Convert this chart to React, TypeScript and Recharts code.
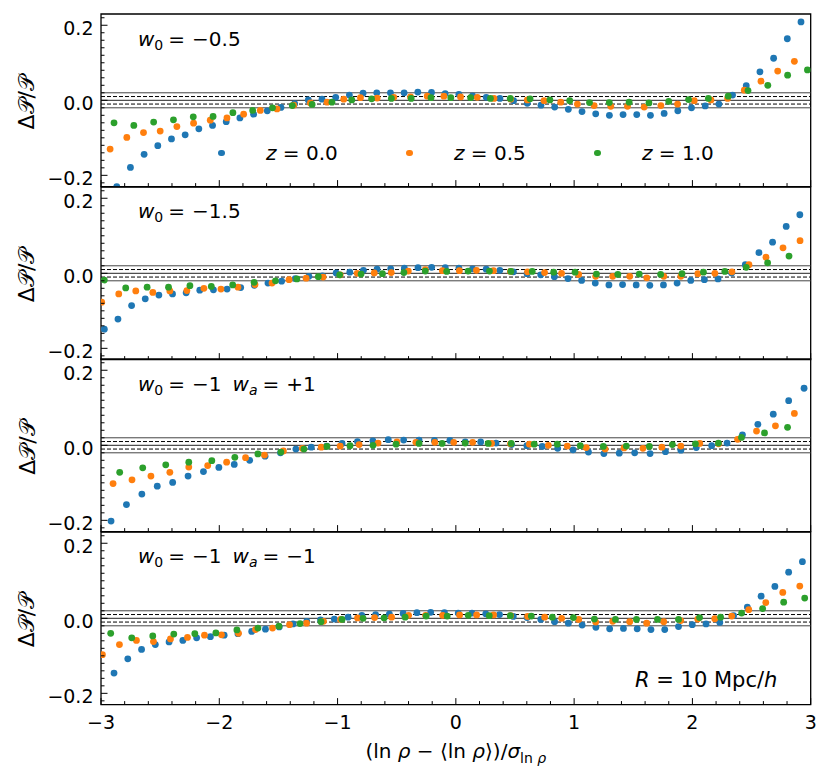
import { ScatterChart, Scatter, XAxis, YAxis, ReferenceLine, ReferenceArea, Legend } from "recharts";

const FONT = "'DejaVu Sans', sans-serif";
const REDSHIFTS = ["0.0", "0.5", "1.0"];
const COLORS = ["#1f77b4", "#ff7f0e", "#2ca02c"];
const W0 = ["−0.5", "−1.5", "−1", "−1"];
const WA = ["", "", "+1", "−1"];

const X_TICKS = [-3, -2.8, -2.6, -2.4, -2.2, -2, -1.8, -1.6, -1.4, -1.2, -1, -0.8, -0.6, -0.4, -0.2, 0, 0.2, 0.4, 0.6, 0.8, 1, 1.2, 1.4, 1.6, 1.8, 2, 2.2, 2.4, 2.6, 2.8, 3];
const Y_TICKS = [-0.22, -0.2, -0.18, -0.16, -0.14, -0.12, -0.1, -0.08, -0.06, -0.04, -0.02, 0, 0.02, 0.04, 0.06, 0.08, 0.1, 0.12, 0.14, 0.16, 0.18, 0.2, 0.22];

// first bin centre and bin width in units of sigma, per panel and redshift
const BIN_START = [
  [-2.867, -2.923, -2.89],
  [-2.972, -2.994, -2.972],
  [-2.915, -2.898, -2.842],
  [-2.89, -2.988, -2.918],
];
const BIN_WIDTH = [
  [0.1157, 0.1411, 0.1675],
  [0.1153, 0.144, 0.1809],
  [0.1302, 0.16, 0.1947],
  [0.1164, 0.1438, 0.1778],
];

// w0 = -0.5
const A_Z00 = [-0.23, -0.179, -0.144, -0.121, -0.103, -0.092, -0.076, -0.067, -0.057, -0.047, -0.037, -0.028, -0.019, -0.009, 0.001, 0.003, 0.008, 0.014, 0.019, 0.02, 0.02, 0.02, 0.022, 0.021, 0.018, 0.016, 0.012, 0.008, 0.005, -0.001, -0.008, -0.013, -0.018, -0.024, -0.03, -0.036, -0.04, -0.038, -0.038, -0.04, -0.035, -0.028, -0.02, -0.015, -0.01, 0.014, 0.039, 0.076, 0.112, 0.164, 0.209];
const A_Z05 = [-0.13, -0.099, -0.086, -0.082, -0.07, -0.061, -0.053, -0.047, -0.037, -0.027, -0.023, -0.013, -0.007, -0.005, 0.003, 0.007, 0.006, 0.008, 0.009, 0.011, 0.011, 0.009, 0.008, 0.005, 0.003, 0.001, -0.001, -0.005, -0.01, -0.014, -0.016, -0.016, -0.018, -0.014, -0.01, -0.001, 0.001, 0.005, 0.027, 0.051, 0.078, 0.104];
const A_Z10 = [-0.06, -0.067, -0.058, -0.052, -0.044, -0.043, -0.033, -0.027, -0.02, -0.014, -0.011, -0.005, 0.001, 0.004, 0.005, 0.005, 0.007, 0.007, 0.007, 0.005, 0.005, 0.004, 0.001, -0.001, -0.006, -0.006, -0.005, -0.007, -0.003, 0.002, 0.005, 0.011, 0.026, 0.04, 0.067, 0.081];

// w0 = -1.5
const B_Z00 = [-0.149, -0.122, -0.086, -0.068, -0.058, -0.055, -0.052, -0.045, -0.044, -0.042, -0.038, -0.032, -0.026, -0.021, -0.014, -0.008, -0.007, 0.001, 0.003, 0.008, 0.011, 0.012, 0.014, 0.015, 0.016, 0.015, 0.014, 0.012, 0.011, 0.008, 0.004, -0.001, -0.004, -0.009, -0.014, -0.019, -0.026, -0.031, -0.03, -0.031, -0.032, -0.031, -0.026, -0.019, -0.017, -0.015, 0.001, 0.023, 0.055, 0.083, 0.125, 0.156];
const B_Z05 = [-0.077, -0.055, -0.047, -0.051, -0.047, -0.046, -0.04, -0.042, -0.037, -0.03, -0.026, -0.017, -0.013, -0.01, -0.004, 0.0, 0.001, 0.002, 0.006, 0.01, 0.007, 0.007, 0.008, 0.007, 0.005, 0.004, 0.002, 0.0, -0.003, -0.008, -0.008, -0.008, -0.012, -0.008, -0.008, -0.001, 0.0, 0.004, 0.023, 0.043, 0.068, 0.087];
const B_Z10 = [-0.018, -0.039, -0.037, -0.037, -0.033, -0.035, -0.031, -0.024, -0.02, -0.015, -0.009, -0.004, -0.002, -0.001, 0.002, 0.006, 0.005, 0.006, 0.006, 0.005, 0.005, 0.003, 0.003, -0.002, -0.003, -0.002, -0.003, -0.001, 0.003, 0.005, 0.016, 0.028, 0.046];

// w0 = -1, wa = +1
const C_Z00 = [-0.202, -0.158, -0.13, -0.109, -0.099, -0.082, -0.07, -0.059, -0.051, -0.04, -0.029, -0.02, -0.01, -0.005, -0.002, 0.005, 0.01, 0.012, 0.015, 0.014, 0.014, 0.013, 0.013, 0.009, 0.009, 0.006, 0.002, -0.001, -0.003, -0.008, -0.012, -0.018, -0.022, -0.021, -0.02, -0.022, -0.017, -0.013, -0.006, -0.001, 0.006, 0.028, 0.056, 0.083, 0.119, 0.152];
const C_Z05 = [-0.102, -0.092, -0.082, -0.072, -0.058, -0.054, -0.045, -0.033, -0.026, -0.015, -0.008, -0.005, -0.002, 0.002, 0.006, 0.009, 0.008, 0.008, 0.008, 0.008, 0.005, 0.004, 0.003, 0.0, -0.002, -0.006, -0.01, -0.007, -0.008, -0.005, -0.002, 0.005, 0.004, 0.016, 0.038, 0.052, 0.085];
const C_Z10 = [-0.072, -0.06, -0.052, -0.045, -0.041, -0.032, -0.023, -0.018, -0.01, -0.003, -0.001, 0.0, 0.003, 0.005, 0.005, 0.006, 0.005, 0.005, 0.003, 0.003, -0.001, -0.003, -0.002, -0.003, 0.002, 0.004, 0.006, 0.021, 0.033, 0.048];

// w0 = -1, wa = -1
const D_Z00 = [-0.146, -0.108, -0.083, -0.07, -0.063, -0.059, -0.052, -0.049, -0.045, -0.041, -0.035, -0.029, -0.023, -0.015, -0.008, -0.004, -0.002, 0.003, 0.008, 0.01, 0.011, 0.013, 0.015, 0.016, 0.015, 0.014, 0.014, 0.012, 0.01, 0.005, 0.002, -0.003, -0.009, -0.013, -0.018, -0.024, -0.028, -0.027, -0.028, -0.03, -0.03, -0.022, -0.017, -0.015, -0.011, 0.007, 0.03, 0.059, 0.085, 0.123, 0.151];
const D_Z05 = [-0.097, -0.07, -0.059, -0.062, -0.055, -0.051, -0.045, -0.044, -0.04, -0.03, -0.026, -0.017, -0.013, -0.008, -0.003, 0.001, 0.002, 0.003, 0.008, 0.008, 0.008, 0.009, 0.009, 0.009, 0.007, 0.005, 0.003, 0.0, -0.003, -0.01, -0.008, -0.009, -0.013, -0.009, -0.006, -0.002, -0.001, 0.006, 0.023, 0.042, 0.069, 0.086];
const D_Z10 = [-0.04, -0.052, -0.047, -0.042, -0.041, -0.039, -0.031, -0.026, -0.021, -0.014, -0.009, -0.003, 0.0, 0.001, 0.003, 0.006, 0.006, 0.008, 0.007, 0.007, 0.006, 0.003, 0.002, -0.002, -0.003, -0.003, -0.003, -0.003, 0.002, 0.003, 0.014, 0.026, 0.043, 0.054];

const VALUES = [
  [A_Z00, A_Z05, A_Z10],
  [B_Z00, B_Z05, B_Z10],
  [C_Z00, C_Z05, C_Z10],
  [D_Z00, D_Z05, D_Z10],
];

const Y_DOMAIN = [-0.23, 0.23];
const PANEL_TOP = 14;
const PANEL_H = 172.6;
const W = 831;

const fmt = (v: number, digits: number) =>
  (v < -1e-9 ? "−" : "") + Math.abs(v).toFixed(digits);

function XTick(props: any) {
  const { x, y, payload, showLabel } = props;
  const v = payload.value;
  const major = Math.abs(v - Math.round(v)) < 1e-6;
  return (
    <g>
      <line x1={x} x2={x} y1={y} y2={y - (major ? 6.5 : 3.5)} stroke="#000" strokeWidth={1} />
      {showLabel && major && (
        <text x={x} y={y + 24} textAnchor="middle" fontSize={19} fontFamily={FONT} fill="#000">
          {fmt(v, 0)}
        </text>
      )}
    </g>
  );
}

function YTick(props: any) {
  const { x, y, payload } = props;
  const v = payload.value;
  const major = Math.abs(v / 0.2 - Math.round(v / 0.2)) < 1e-6;
  return (
    <g>
      <line x1={x} x2={x + (major ? 6.5 : 3.5)} y1={y} y2={y} stroke="#000" strokeWidth={1} />
      {major && (
        <text x={x - 7.5} y={y} dy="0.5em" textAnchor="end" fontSize={19} fontFamily={FONT} fill="#000">
          {fmt(v, 1)}
        </text>
      )}
    </g>
  );
}

function LegendContent() {
  return (
    <div style={{ display: "flex", fontFamily: FONT, fontSize: 20 }}>
      {REDSHIFTS.map((z, i) => (
        <div key={z} style={{ width: 188, display: "flex", alignItems: "center" }}>
          <span style={{ width: 6.6, height: 6.6, borderRadius: "50%", background: COLORS[i] }} />
          <span style={{ marginLeft: 41 }}>
            <i>z</i> = {z}
          </span>
        </div>
      ))}
    </div>
  );
}

function Panel({ index }: { index: number }) {
  const last = index === 3;
  const mt = 14;
  const mb = last ? 70 : 14;
  const top = PANEL_TOP + index * PANEL_H;
  return (
    <div style={{ position: "absolute", left: 0, top: top - mt }}>
      <ScatterChart width={W} height={PANEL_H + mt + mb} margin={{ top: mt, right: 20.3, bottom: 0, left: 0 }}>
        <XAxis
          type="number"
          dataKey="x"
          domain={[-3, 3]}
          allowDataOverflow
          ticks={X_TICKS}
          interval={0}
          height={mb}
          tickSize={0}
          tickMargin={0}
          axisLine={false}
          tickLine={false}
          tick={(p: any) => <XTick {...p} showLabel={last} />}
        />
        <YAxis
          type="number"
          dataKey="y"
          domain={Y_DOMAIN}
          allowDataOverflow
          ticks={Y_TICKS}
          interval={0}
          width={101}
          tickSize={0}
          tickMargin={0}
          axisLine={false}
          tickLine={false}
          tick={(p: any) => <YTick {...p} />}
        />
        <ReferenceLine y={0.02} stroke="#444" strokeWidth={1} />
        <ReferenceLine y={0.01} stroke="#000" strokeWidth={1} strokeDasharray="4 2" />
        <ReferenceLine y={0} stroke="#222" strokeWidth={1} />
        <ReferenceLine y={-0.01} stroke="#000" strokeWidth={1} strokeDasharray="4 2" />
        <ReferenceLine y={-0.02} stroke="#444" strokeWidth={1} />
        {REDSHIFTS.map((z, s) => (
          <Scatter
            key={z}
            name={`z = ${z}`}
            data={VALUES[index][s].map((y, i) => ({ x: BIN_START[index][s] + i * BIN_WIDTH[index][s], y }))}
            fill={COLORS[s]}
            isAnimationActive={false}
            shape={(p: any) => <circle cx={p.cx} cy={p.cy} r={3.4} fill={COLORS[s]} />}
          />
        ))}
        <ReferenceArea x1={-3} x2={3} y1={Y_DOMAIN[0]} y2={Y_DOMAIN[1]} fill="none" stroke="#000" strokeWidth={1.3} />
        {index === 0 && (
          <Legend
            layout="horizontal"
            verticalAlign="middle"
            align="center"
            wrapperStyle={{ left: 218.4, top: 141, width: 600 }}
            content={() => <LegendContent />}
          />
        )}
      </ScatterChart>
    </div>
  );
}

function Annotations() {
  return (
    <svg width={W} height={780} style={{ position: "absolute", left: 0, top: 0, pointerEvents: "none" }}>
      {W0.map((w0, p) => {
        const top = PANEL_TOP + p * PANEL_H;
        return (
          <g key={p} fontFamily={FONT} fill="#000">
            <text
              x={27}
              y={top + PANEL_H / 2 + 2}
              transform={`rotate(-90 27 ${top + PANEL_H / 2 + 2})`}
              textAnchor="middle"
              dominantBaseline="central"
              fontSize={22}
            >
              Δ𝒫/𝒫
            </text>
            <text x={138} y={top + 31.5} fontSize={20}>
              <tspan fontStyle="italic">w</tspan>
              <tspan dy={4} fontSize={14}>0</tspan>
              <tspan dy={-4} dx={5}>=</tspan>
              <tspan dx={7}>{w0}</tspan>
              {WA[p] && (
                <>
                  <tspan dx={11} fontStyle="italic">w</tspan>
                  <tspan dy={4} fontSize={14} fontStyle="italic">a</tspan>
                  <tspan dy={-4} dx={5}>=</tspan>
                  <tspan dx={7}>{WA[p]}</tspan>
                </>
              )}
            </text>
          </g>
        );
      })}
      <text x={635} y={687} fontSize={21} fontFamily={FONT}>
        <tspan fontStyle="italic">R</tspan>
        <tspan> = 10 Mpc/</tspan>
        <tspan fontStyle="italic">h</tspan>
      </text>
      <text x={455.8} y={758} textAnchor="middle" fontSize={20} fontFamily={FONT}>
        (ln <tspan fontStyle="italic">ρ</tspan> − ⟨ln <tspan fontStyle="italic">ρ</tspan>⟩)/<tspan fontStyle="italic">σ</tspan>
        <tspan dy={5} fontSize={14}>ln </tspan>
        <tspan fontSize={14} fontStyle="italic">ρ</tspan>
      </text>
    </svg>
  );
}

export default function App() {
  return (
    <div style={{ position: "absolute", left: 0, top: 0, width: W, height: 780, background: "#fff" }}>
      {[0, 1, 2, 3].map((i) => (
        <Panel key={i} index={i} />
      ))}
      <Annotations />
    </div>
  );
}
